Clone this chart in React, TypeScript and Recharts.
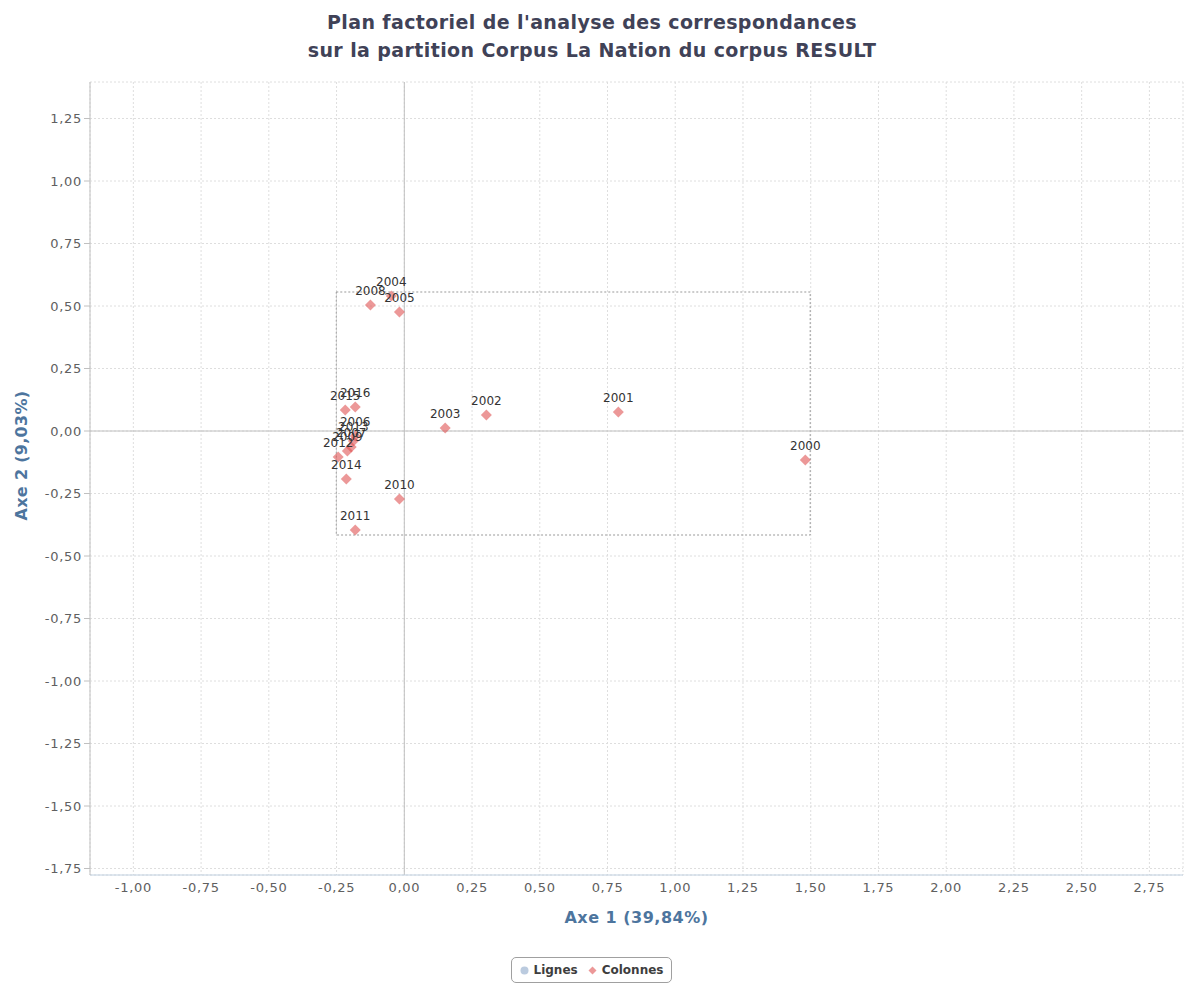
import React from "react";
import {
  ScatterChart,
  Scatter,
  XAxis,
  YAxis,
  CartesianGrid,
  ReferenceLine,
  ReferenceArea,
  Legend,
  LabelList,
  Label,
} from "recharts";

// Colonnes (years) on the factorial plane
const YEARS = ["2000", "2001", "2002", "2003", "2004", "2005", "2006", "2007", "2008", "2009", "2010", "2011", "2012", "2013", "2014", "2015", "2016"];
const AXE1 = [1.48, 0.79, 0.303, 0.151, -0.048, -0.018, -0.181, -0.196, -0.125, -0.21, -0.018, -0.181, -0.244, -0.188, -0.214, -0.218, -0.181];
const AXE2 = [-0.116, 0.076, 0.064, 0.012, 0.54, 0.476, -0.02, -0.064, 0.504, -0.08, -0.272, -0.396, -0.104, -0.04, -0.192, 0.084, 0.096];

// Lignes series has no points drawn
const LIGNES: { x: number; y: number; label: string }[] = [];
const SERIES_ORDER = ["Lignes", "Colonnes"];

const X_TICKS = [-1, -0.75, -0.5, -0.25, 0, 0.25, 0.5, 0.75, 1, 1.25, 1.5, 1.75, 2, 2.25, 2.5, 2.75];
const Y_TICKS = [-1.75, -1.5, -1.25, -1, -0.75, -0.5, -0.25, 0, 0.25, 0.5, 0.75, 1, 1.25];
const X_DOMAIN = [-1.16, 2.874];
const Y_DOMAIN = [-1.776, 1.396];

// dashed box around the column points
const BOX_X = [-0.251, 1.498];
const BOX_Y = [-0.416, 0.556];

const TITLE = ["Plan factoriel de l'analyse des correspondances", "sur la partition Corpus La Nation du corpus RESULT"];
const X_TITLE = "Axe 1 (39,84%)";
const Y_TITLE = "Axe 2 (9,03%)";

const FONT = "'DejaVu Sans', Verdana, sans-serif";
const COL_COLOR = "rgba(223, 83, 83, 0.6)";
const ROW_COLOR = "rgba(119, 152, 191, 0.5)";

const colonnes = YEARS.map((label, i) => ({ x: AXE1[i], y: AXE2[i], label }));

const fmt = (v: number) => v.toFixed(2).replace(".", ",");

const Diamond = (props: any) => {
  const { cx, cy } = props;
  const r = 5.5;
  return <path d={`M${cx},${cy - r}L${cx + r},${cy}L${cx},${cy + r}L${cx - r},${cy}Z`} fill={COL_COLOR} />;
};

const PointLabel = (props: any) => {
  const { x, y, width, height, value } = props;
  const cx = x + (width || 0) / 2;
  const cy = y + (height || 0) / 2;
  return (
    <text x={cx} y={cy - 10.5} textAnchor="middle" fontSize={12} fontFamily={FONT} fill="#333">
      {value}
    </text>
  );
};

const LegendBox = (props: any) => {
  const items = [...(props.payload || [])].sort(
    (a: any, b: any) => SERIES_ORDER.indexOf(a.value) - SERIES_ORDER.indexOf(b.value)
  );
  return (
    <div style={{ display: "flex", justifyContent: "center" }}>
      <div
        style={{
          height: 26,
          boxSizing: "border-box",
          border: "1px solid #a0a0a0",
          borderRadius: 5,
          padding: "0 8px",
          display: "flex",
          alignItems: "center",
          gap: 10,
          fontFamily: FONT,
          fontSize: 12,
          fontWeight: "bold",
          color: "#3e3e3e",
        }}
      >
        {items.map((it: any) => (
          <span key={it.value} style={{ display: "flex", alignItems: "center", gap: 5 }}>
            {it.value === "Lignes" ? (
              <svg width={9} height={9}>
                <circle cx={4.5} cy={4.5} r={4} fill={ROW_COLOR} />
              </svg>
            ) : (
              <svg width={9} height={9}>
                <path d="M4.5,0.5L8.5,4.5L4.5,8.5L0.5,4.5Z" fill={COL_COLOR} />
              </svg>
            )}
            {it.value}
          </span>
        ))}
      </div>
    </div>
  );
};

export default function App() {
  return (
    <div style={{ position: "absolute", left: 0, top: 0, width: 1184, height: 991, background: "#fff" }}>
      <div
        style={{
          position: "absolute",
          left: 0,
          top: 8,
          width: 1184,
          textAlign: "center",
          fontFamily: FONT,
          fontSize: 19,
          fontWeight: "bold",
          letterSpacing: 0.4,
          lineHeight: "28px",
          color: "#404257",
        }}
      >
        {TITLE.map((t) => (
          <div key={t}>{t}</div>
        ))}
      </div>
      <ScatterChart width={1184} height={991} margin={{ top: 82, right: 1, bottom: 8, left: 0 }}>
        <CartesianGrid stroke="#dedede" strokeDasharray="2 2" />
        <XAxis
          type="number"
          dataKey="x"
          domain={X_DOMAIN}
          ticks={X_TICKS}
          allowDataOverflow
          tickFormatter={fmt}
          tickLine={false}
          height={82}
          stroke="#c0d0e0"
          tick={{ fill: "#606060", fontSize: 13, fontFamily: FONT, letterSpacing: 0.7 }}
        >
          <Label
            content={(p: any) => {
              const vb = p.viewBox;
              return (
                <text x={vb.x + vb.width / 2} y={vb.y + 42} textAnchor="middle" dominantBaseline="central" fontSize={16} letterSpacing={0.5} fontWeight="bold" fontFamily={FONT} fill="#4d759e">
                  {X_TITLE}
                </text>
              );
            }}
          />
        </XAxis>
        <YAxis
          type="number"
          dataKey="y"
          domain={Y_DOMAIN}
          ticks={Y_TICKS}
          allowDataOverflow
          tickFormatter={fmt}
          width={90}
          stroke="#c0c0c0"
          tick={{ fill: "#606060", fontSize: 13, fontFamily: FONT, letterSpacing: 0.7 }}
        >
          <Label
            content={(p: any) => {
              const vb = p.viewBox;
              const cx = vb.x + 21;
              const cy = vb.y + vb.height / 2 - 23;
              return (
                <text x={cx} y={cy} transform={`rotate(-90, ${cx}, ${cy})`} textAnchor="middle" dominantBaseline="central" fontSize={16} letterSpacing={0.3} fontWeight="bold" fontFamily={FONT} fill="#4d759e">
                  {Y_TITLE}
                </text>
              );
            }}
          />
        </YAxis>
        <ReferenceLine x={0} stroke="#c0c0c0" />
        <ReferenceLine y={0} stroke="#c0c0c0" />
        <ReferenceArea x1={BOX_X[0]} x2={BOX_X[1]} y1={BOX_Y[0]} y2={BOX_Y[1]} fill="none" fillOpacity={0} stroke="#999" strokeDasharray="2 2" />
        <Legend verticalAlign="bottom" content={<LegendBox />} />
        <Scatter name="Lignes" data={LIGNES} fill={ROW_COLOR} isAnimationActive={false} />
        <Scatter name="Colonnes" data={colonnes} fill={COL_COLOR} shape={<Diamond />} isAnimationActive={false}>
          <LabelList dataKey="label" content={<PointLabel />} />
        </Scatter>
      </ScatterChart>
    </div>
  );
}
